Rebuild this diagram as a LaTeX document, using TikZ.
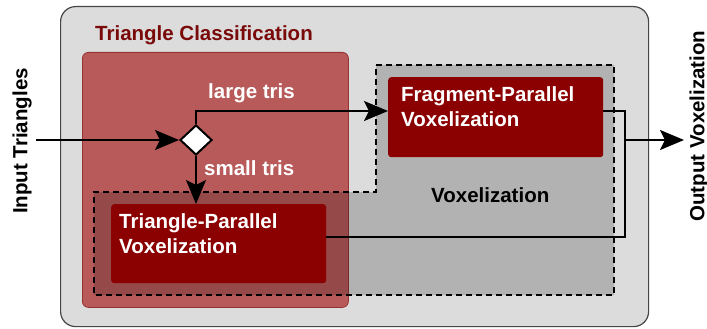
\documentclass[tikz,border=0pt]{standalone}
\usepackage{fontspec}
\setmainfont{Liberation Sans}
\usetikzlibrary{shapes.geometric,arrows.meta}
\definecolor{outerfill}{RGB}{220,220,220}
\definecolor{outerline}{RGB}{70,70,70}
\definecolor{redfill}{RGB}{184,90,90}
\definecolor{redline}{RGB}{150,50,50}
\definecolor{darkred}{RGB}{139,0,0}
\definecolor{titlered}{RGB}{122,10,10}
\tikzset{
  txt/.style={font=\fontsize{20.5}{25}\selectfont\bfseries, inner sep=0pt, anchor=base west},
  whitetxt/.style={txt, text=white},
  stagebox/.style={fill=darkred, rounded corners=3pt, inner sep=0pt, anchor=north west},
  conn/.style={line width=2pt, draw=black},
  arr/.style={conn, -{Stealth[length=24pt,width=20pt,inset=5pt]}},
}
\begin{document}
\begin{tikzpicture}[x=1pt,y=-1pt]
\useasboundingbox (0,0) rectangle (707,329);
% outer gray box
\node[draw=outerline, line width=1.2pt, fill=outerfill, rounded corners=15pt, anchor=north west,
      minimum width=588pt, minimum height=320pt, inner sep=0pt] (outer) at (60,6) {};
% triangle classification region
\node[draw=redline, line width=0.8pt, fill=redfill, rounded corners=6pt, anchor=north west,
      minimum width=266pt, minimum height=255pt, inner sep=0pt] (cls) at (82,52) {};
\node[txt, text=titlered] (clstitle) at (95,40.5) {Triangle Classification};
% voxelization region (dashed)
\draw[fill=black, fill opacity=0.19, line width=2pt, dash pattern=on 6pt off 4pt]
  (376,65) -- (614,65) -- (614,295) -- (94,295) -- (94,192) -- (376,192) -- cycle;
\node[txt] (voxtitle) at (431,202.5) {Voxelization};
% stage boxes
\node[stagebox, minimum width=215pt, minimum height=80pt] (frag) at (388,77) {};
\node[whitetxt] (fragA) at (401,101.5) {Fragment-Parallel};
\node[whitetxt] (fragB) at (401,126.5) {Voxelization};
\node[stagebox, minimum width=215pt, minimum height=79pt] (tri) at (111,204) {};
\node[whitetxt] (triA) at (119,228) {Triangle-Parallel};
\node[whitetxt] (triB) at (119,253) {Voxelization};
% decision diamond
\node[diamond, draw=black, line width=2pt, fill=white, minimum width=32pt, minimum height=30pt,
      inner sep=0pt] (dia) at (196,140) {};
% side labels
\node[txt, anchor=center, rotate=90] (inlbl) at (22,141) {Input Triangles};
\node[txt, anchor=center, rotate=90] (outlbl) at (699,126) {Output Voxelization};
% branch labels
\node[whitetxt] (large) at (208,99) {large tris};
\node[whitetxt] (small) at (204,175) {small tris};
% connectors
\coordinate (istart) at (36,140);
\draw[arr] (istart) -- (dia.west);
\coordinate (lt) at (388,111);
\draw[arr] (dia.north) |- (lt);
\draw[arr] (dia.south) -- (dia.south |- tri.north);
\coordinate (jt) at (625,111);
\coordinate (jb) at (625,237);
\coordinate (jo) at (625,140);
\coordinate (oend) at (684,140);
\draw[conn] (frag.east |- jt) -- (jt) -- (jb) -- (tri.east |- jb);
\draw[arr] (jo) -- (oend);
\end{tikzpicture}
\end{document}
